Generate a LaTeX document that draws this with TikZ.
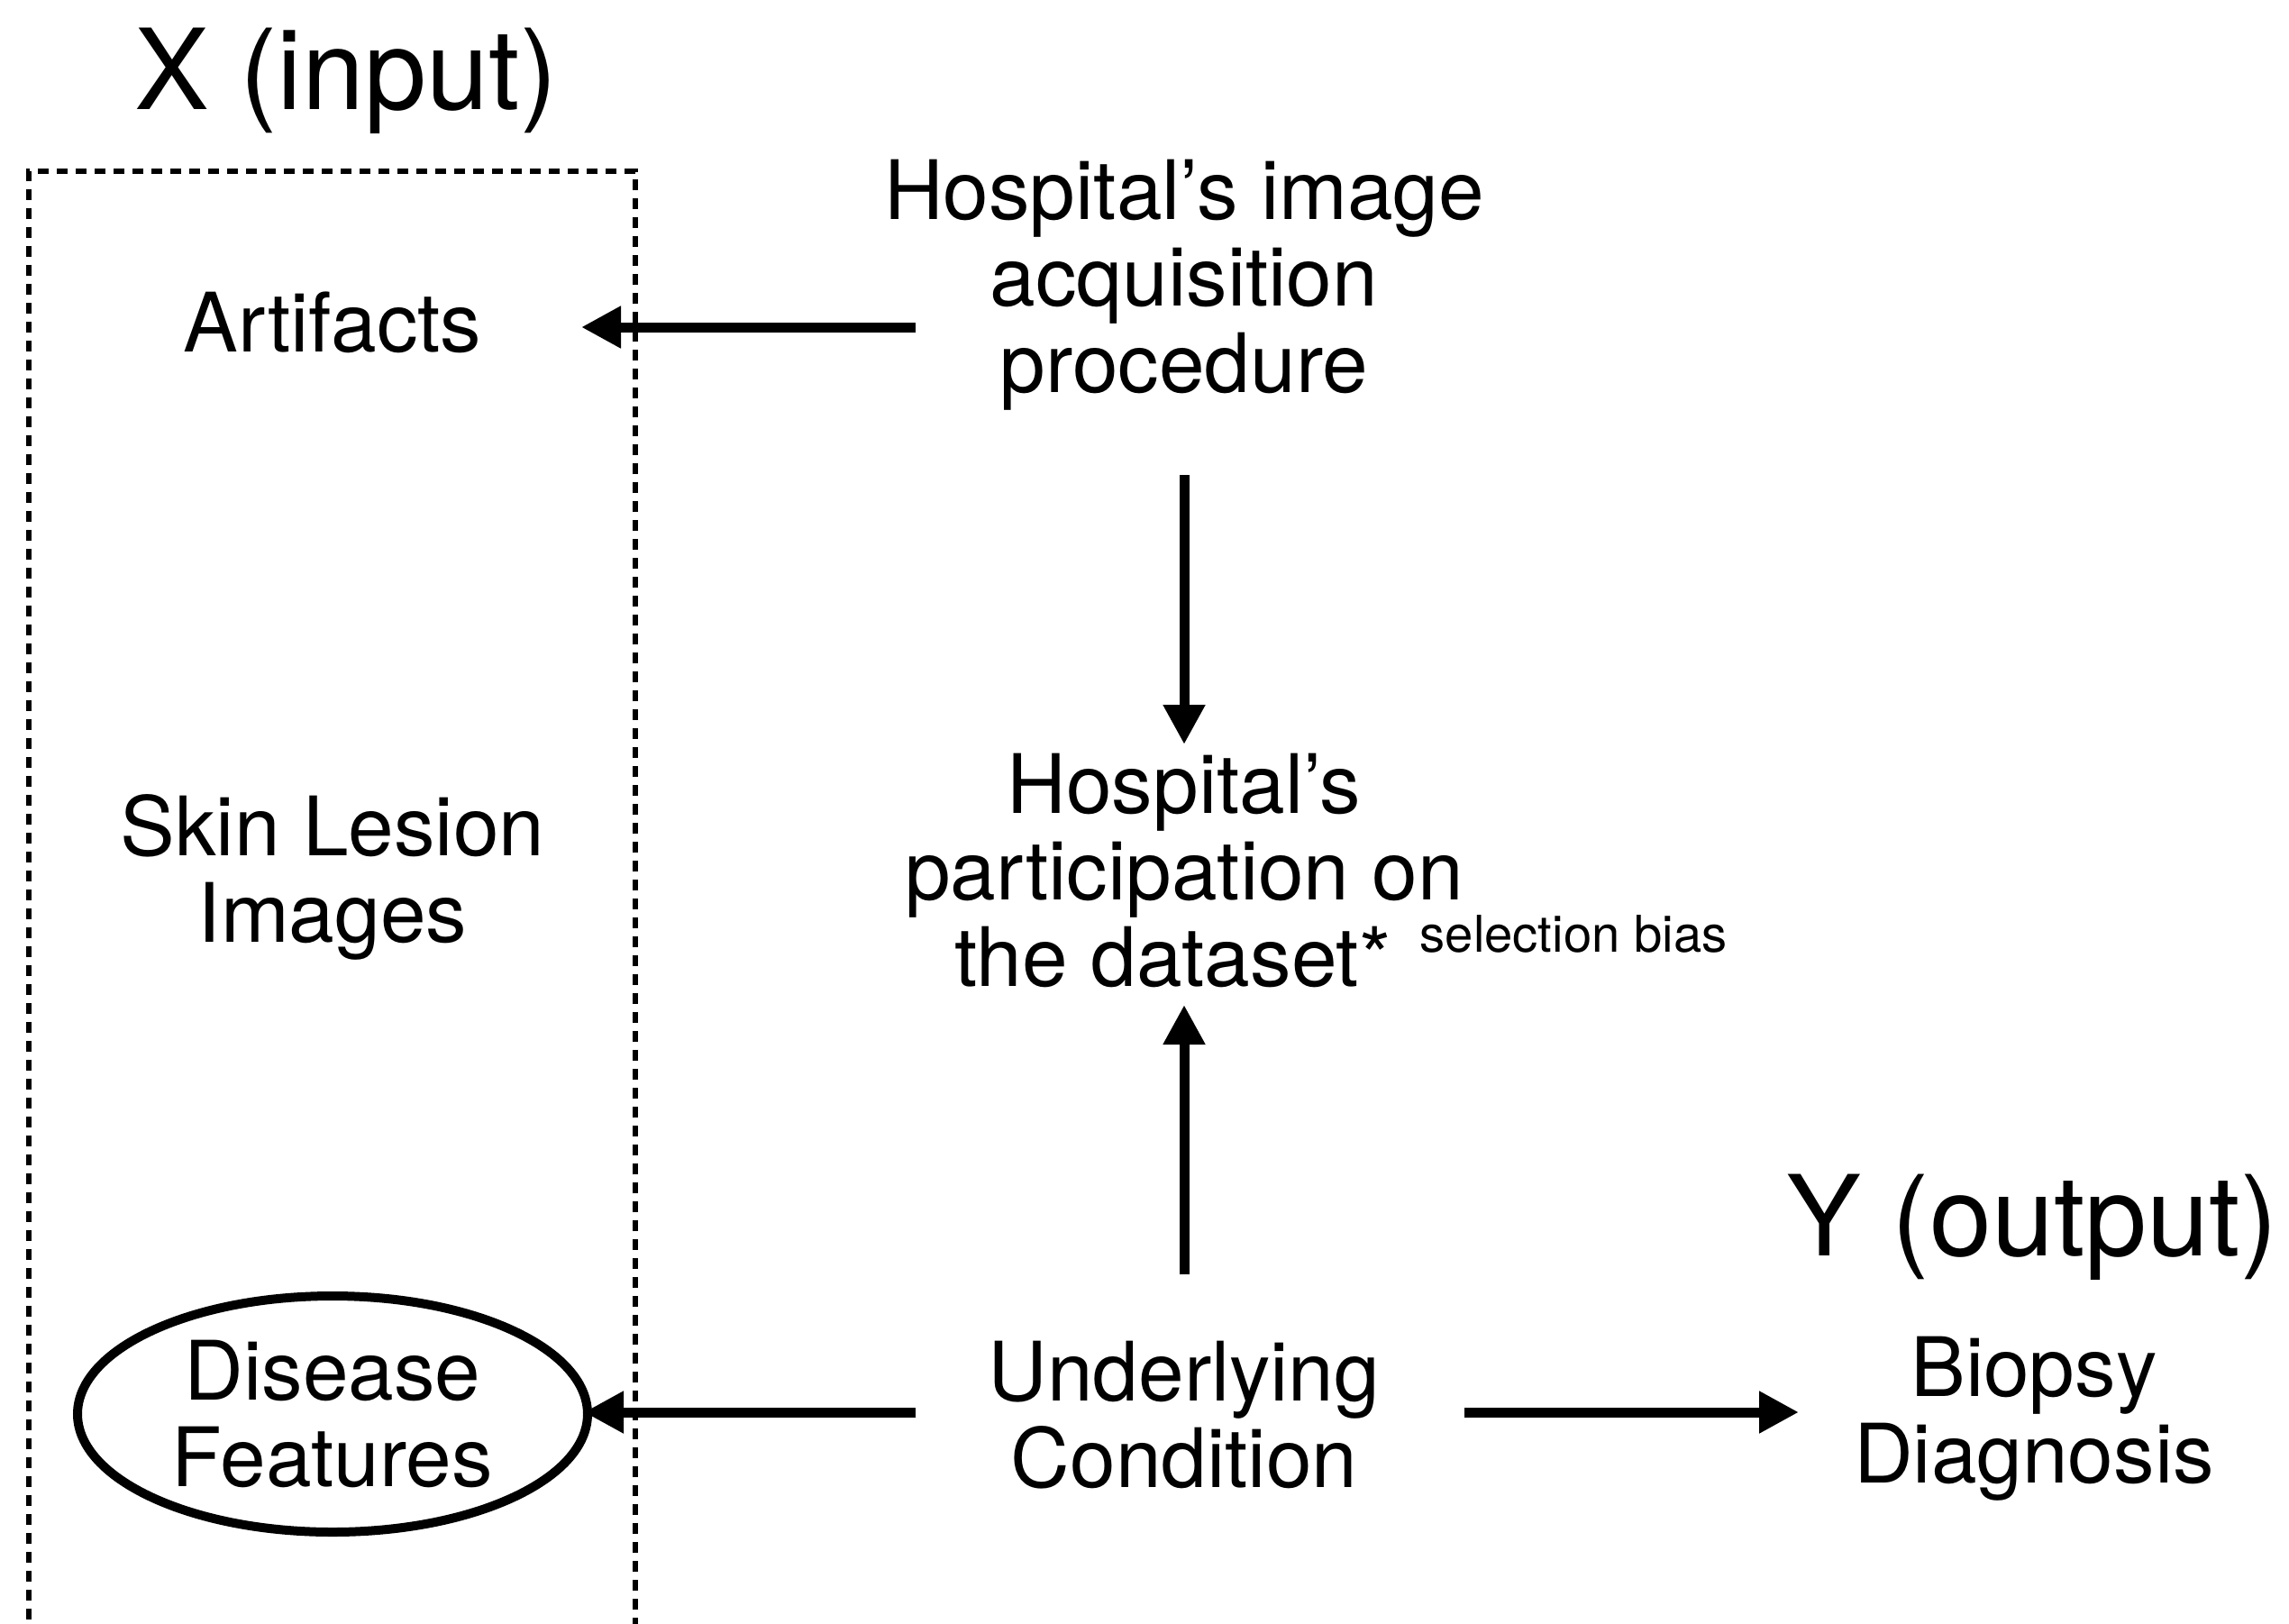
\documentclass[tikz,border=0pt]{standalone}
\usepackage{fontspec}
\setmainfont{TeX Gyre Heros}
\usetikzlibrary{arrows.meta,shapes.geometric}
\begin{document}
\begin{tikzpicture}[
  lbl/.style={align=center, font=\fontsize{25.9pt}{27.3pt}\selectfont, inner sep=0pt},
  big/.style={font=\fontsize{35.3pt}{40pt}\selectfont, inner sep=0pt},
  small/.style={font=\fontsize{16pt}{18pt}\selectfont, inner sep=0pt},
  arr/.style={line width=0.11cm, -{Triangle[length=0.44cm,width=0.44cm]}},
  frame/.style={draw, dash pattern=on 0.12cm off 0.09cm, line width=0.06cm, inner sep=0pt, outer sep=0pt}
]
\useasboundingbox (0,0) rectangle (25.4,-18.01);

% dashed frame around X
\node[frame, minimum width=6.73cm, minimum height=16.16cm, anchor=north west] (xbox) at (0.32,-1.90) {};

% titles
\node[big, anchor=base] (xin) at (3.84,-1.21) {X (input)};
\node[big, anchor=base] (yout) at (22.55,-13.93) {Y (output)};

% nodes
\node[lbl] (art) at (3.69,-3.58) {Artifacts};
\node[lbl] (acq) at (13.14,-3.16) {Hospital’s image\\acquisition\\procedure};
\node[lbl] (skin) at (3.69,-9.73) {Skin Lesion\\Images};
\node[lbl] (part) at (13.14,-9.66) {Hospital’s\\participation on\\the dataset*\hspace*{0.278em}};
\node[small, anchor=base west] (sel) at (15.75,-10.56) {selection bias};
\node[lbl, draw, ellipse, line width=0.1cm, minimum width=5.66cm, minimum height=2.62cm] (dis) at (3.69,-15.69) {Disease\\Features};
\node[lbl] (und) at (13.14,-15.70) {Underlying\\Condition};
\node[lbl] (bio) at (22.57,-15.74) {Biopsy\\Diagnosis};

% connector end points
\coordinate (acqL) at (10.16,-3.63);
\coordinate (artR) at (6.45,-3.63);
\coordinate (acqB) at (13.14,-5.27);
\coordinate (partT) at (13.14,-8.26);
\coordinate (undT) at (13.14,-14.14);
\coordinate (partB) at (13.14,-11.15);
\coordinate (undL) at (10.16,-15.67);
\coordinate (disR) at (6.48,-15.67);
\coordinate (undR) at (16.25,-15.67);
\coordinate (bioL) at (19.96,-15.67);

\draw[arr] (acqL) -- (artR);
\draw[arr] (acqB) -- (partT);
\draw[arr] (undT) -- (partB);
\draw[arr] (undL) -- (disR);
\draw[arr] (undR) -- (bioL);
\end{tikzpicture}
\end{document}
